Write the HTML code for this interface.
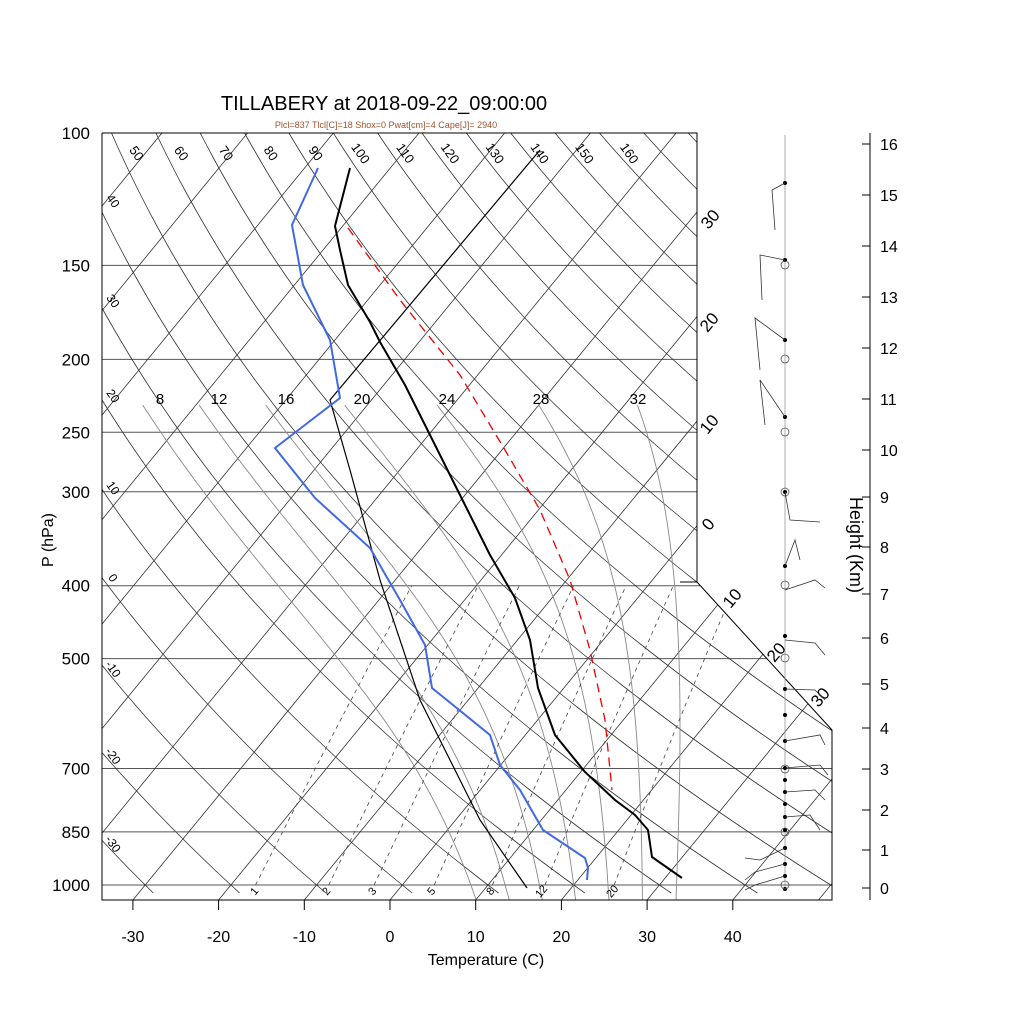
<!DOCTYPE html>
<html><head><meta charset="utf-8"><style>
body{margin:0;background:#fff}
svg{display:block;font-family:"Liberation Sans",sans-serif}
</style></head><body>
<svg id="s" width="1024" height="1024" xmlns="http://www.w3.org/2000/svg"></svg>
<script>
var S=document.getElementById('s'),h='';
function Y(p){return 133+752*Math.log(p/100)/Math.log(10);}
function X(T,y){return 390+8.57*T+0.82*(900-y);}
function P(y){return 100*Math.pow(10,(y-133)/752);}
function line(pts,st){return '<polyline fill="none" points="'+pts.map(function(a){return a[0].toFixed(1)+','+a[1].toFixed(1)}).join(' ')+'" '+st+'/>';}
function txt(x,y,t,sz,ex){return '<text x="'+x+'" y="'+y+'" font-size="'+sz+'" '+(ex||'')+'>'+t+'</text>';}
h+='<defs><clipPath id="c"><polygon points="102,133 697,133 697,582 832,730 832,900 102,900"/></clipPath></defs>';
h+='<g clip-path="url(#c)">';
[100,150,200,250,300,400,500,700,850,1000].forEach(function(p){var y=Y(p);h+=line([[102,y],[840,y]],'stroke="#555" stroke-width="1"');});
for(var T=-160;T<=60;T+=10){h+=line([[X(T,900),900],[X(T,133),133]],'stroke="#333" stroke-width="0.8"');}
for(var th=-60;th<=200;th+=10){var pts=[];for(var y=133;y<=900;y+=8){var p=P(y);var t=(th+273.15)*Math.pow(p/1000,0.286)-273.15;pts.push([X(t,y),y]);}h+=line(pts,'stroke="#333" stroke-width="0.8"');}
function es(t){return 6.112*Math.exp(17.67*t/(t+243.5));}
function step(pp,tt,dp){var T=tt+273.15;var e=es(tt);var r=0.622*e/(pp-e);var Lv=2.5e6,Rd=287,cp=1005;
  var g=(Rd*T/pp+Lv*r/pp)/(cp+Lv*Lv*r*0.622/(Rd*T*T));return tt+g*dp;}
function moist(T0,pend){var pts=[],pp;
 var t2=T0;for(pp=1000;pp<1050;pp+=2){t2=step(pp,t2,2);}pts.push([X(t2,Y(1050)),Y(1050)]);
 t2=T0;for(pp=1000;pp>pend;pp-=2){pts.push([X(t2,Y(pp)),Y(pp)]);t2=step(pp,t2,-2);}
 return pts;}
[8,12,16,20,24,28,32].forEach(function(t){h+=line(moist(t,228),'stroke="#888" stroke-width="0.9"');});
[1,2,3,5,8,12,20].forEach(function(w){var pts=[];for(var p=1000;p>=400;p-=10){var e=w*p/(622+w);var l=Math.log(e/6.112);var td=243.5*l/(17.67-l);pts.push([X(td,Y(p)),Y(p)]);}h+=line(pts,'stroke="#444" stroke-width="0.8" stroke-dasharray="4,4"');});
h+='</g>';
h+=line([[102,133],[697,133],[697,582],[680,582]],'stroke="#000" stroke-width="1"');
h+=line([[697,582],[832,730],[832,900],[102,900],[102,133]],'stroke="#000" stroke-width="1"');
[[8,160],[12,219],[16,286],[20,362],[24,447],[28,541],[32,638]].forEach(function(a){h+=txt(a[1],404,a[0],15,'text-anchor="middle"');});
[[1,254,'1'],[2,326,'2'],[3,372,'3'],[5,431,'5'],[8,490,'8'],[12,541,'12'],[20,612,'20']].forEach(function(a){h+=txt(a[1],895,a[2],11,'text-anchor="middle" transform="rotate(-50 '+a[1]+' 891)"');});
[50,60,70,80,90,100,110,120,130,140,150,160].forEach(function(v,i){var x=137+i*44.8;h+=txt(x,158,v,13,'text-anchor="middle" transform="rotate(55 '+x+' 153)"');});
[[40,205],[30,305],[20,400],[10,492],[0,582],['-10',673],['-20',760],['-30',848]].forEach(function(a){h+=txt(113,a[1],a[0],12,'text-anchor="middle" transform="rotate(55 113 '+(a[1]-4)+')"');});
[['30',710,225],['20',709,328],['10',709,430],['0',708,530],['10',732,604],['20',776,658],['30',820,703]].forEach(function(a){h+=txt(a[1],a[2],a[0],17,'text-anchor="middle" transform="rotate(-50 '+a[1]+' '+(a[2]-6)+')"');});
var Tk=[[350,168],[335,226],[340,250],[348,285],[370,322],[380,342],[405,385],[440,455],[465,505],[490,555],[515,598],[530,640],[538,688],[555,735],[585,772],[615,800],[635,815],[648,830],[652,857],[682,878]];
var Td=[[318,168],[292,225],[303,285],[330,340],[340,398],[275,448],[315,498],[370,548],[400,600],[425,645],[432,688],[490,735],[500,765],[520,790],[543,830],[585,858],[588,868],[587,880]];
var Pc=[[527,888],[480,820],[420,700],[380,580],[350,470],[330,400],[540,150]];
var Rd=[[348,228],[400,300],[460,375],[505,450],[540,510],[570,580],[590,650],[605,720],[612,790]];
h+=line(Pc,'stroke="#000" stroke-width="1.2"');
h+=line(Rd,'stroke="#e00" stroke-width="1.3" stroke-dasharray="9,6"');
h+=line(Td,'stroke="#4169e1" stroke-width="2"');
h+=line(Tk,'stroke="#000" stroke-width="2"');
[100,150,200,250,300,400,500,700,850,1000].forEach(function(p){h+=txt(90,Y(p)+6,p,17,'text-anchor="end"');});
[-30,-20,-10,0,10,20,30,40].forEach(function(t){var x=390+8.57*t;h+=line([[x,900],[x,910]],'stroke="#000"');h+=txt(x,942,t,16,'text-anchor="middle"');});
h+=txt(486,965,'Temperature (C)',16,'text-anchor="middle"');
h+=txt(53,540,'P (hPa)',16,'text-anchor="middle" transform="rotate(-90 53 540)"');
h+=txt(384,110,'TILLABERY at 2018-09-22_09:00:00',20,'text-anchor="middle"');
h+=txt(386,128,'Plcl=837 Tlcl[C]=18 Shox=0 Pwat[cm]=4 Cape[J]= 2940',9,'text-anchor="middle" fill="#a0522d"');
h+=line([[870,133],[870,900]],'stroke="#000"');
var HY=[888,850,810,769,728,684,638,594,547,497,450,399,348,297,246,195,144];
HY.forEach(function(y,k){h+=line([[862,y],[870,y]],'stroke="#000"');h+=txt(880,y+6,k,16);});
h+=txt(850,545,'Height (Km)',18,'text-anchor="middle" transform="rotate(90 850 545)"');
h+=line([[785,135],[785,890]],'stroke="#999" stroke-width="0.8"');
[183,260,340,417,492,566,636,689,715,741,768,780,792,804,817,830,848,864,876,889].forEach(function(y){h+='<circle cx="785" cy="'+y+'" r="2" fill="#000"/>';});
[265,359,432,492,585,658,769,832,885].forEach(function(y){h+='<circle cx="785" cy="'+y+'" r="4" fill="none" stroke="#555" stroke-width="0.8"/>';});
var B=[[[785,183],[772,190],[775,230]],[[785,260],[760,255],[762,300]],[[785,340],[755,318],[760,370]],[[785,417],[760,380],[765,425]],[[785,492],[790,520],[820,522]],[[785,566],[795,540],[800,560]],[[785,590],[815,580],[825,588]],[[785,640],[815,643],[825,655]],[[785,689],[815,690],[825,700]],[[785,741],[820,735],[825,745]],[[785,768],[820,765],[828,775]],[[785,792],[815,790],[825,800]],[[785,817],[810,815],[820,830]],[[785,848],[760,860],[745,858]],[[785,864],[755,872],[745,880]],[[785,876],[755,885],[745,890]]];
B.forEach(function(b){h+=line(b,'stroke="#333" stroke-width="0.8"');});
S.innerHTML=h;
</script>
</body></html>
